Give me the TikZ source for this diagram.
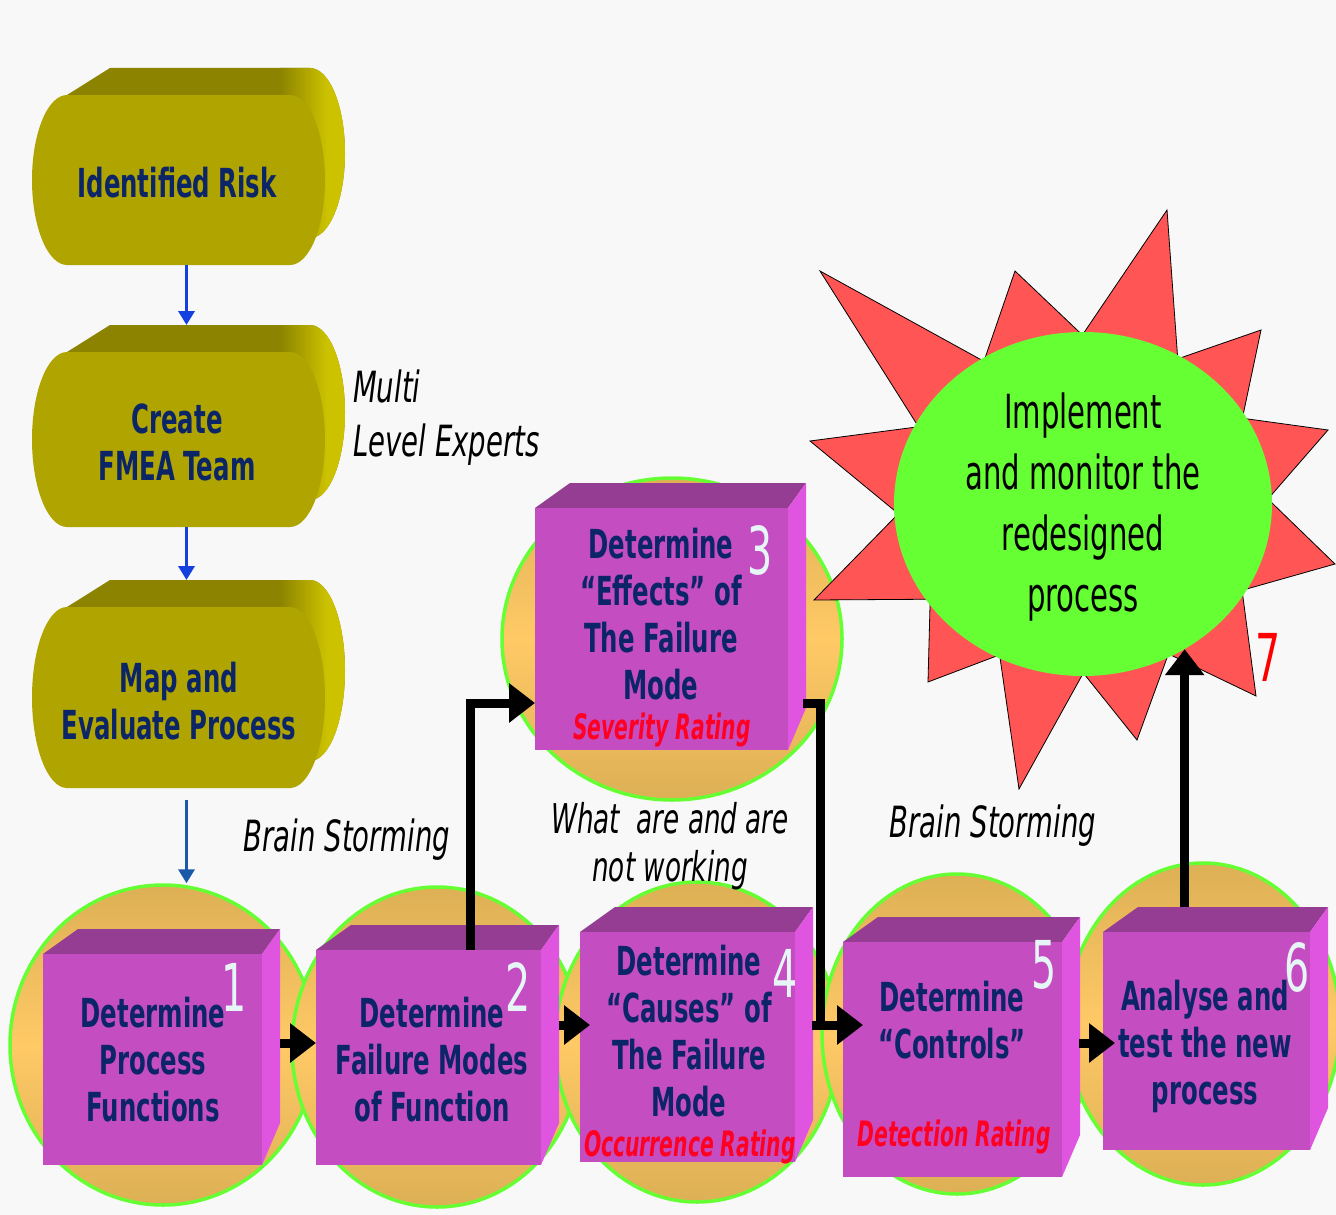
\documentclass[tikz,border=0pt]{standalone}
\usepackage{fontspec}
\usetikzlibrary{arrows.meta,shapes.geometric,calc}
\newfontfamily\bxf{DejaVu Sans}[FakeStretch=0.61]
\newfontfamily\rtf{DejaVu Sans}[FakeStretch=0.58]
\newfontfamily\itf{DejaVu Sans}[FakeStretch=0.64]
\newfontfamily\elf{DejaVu Sans}[FakeStretch=0.62]
\newfontfamily\nmf{DejaVu Sans}[FakeStretch=0.6]
\definecolor{bgc}{HTML}{F8F8F8}
\definecolor{olfront}{HTML}{B0A500}
\definecolor{oltop}{HTML}{8C8300}
\definecolor{olside}{HTML}{CCC200}
\definecolor{navy}{HTML}{0B2566}
\definecolor{pfront}{HTML}{C54DC2}
\definecolor{ptop}{HTML}{953C93}
\definecolor{pside}{HTML}{DF55DF}
\definecolor{orng}{HTML}{FFC966}
\definecolor{orngd}{HTML}{DDB055}
\definecolor{ring}{HTML}{66FF33}
\definecolor{spikec}{HTML}{FF5555}
\definecolor{lgreen}{HTML}{66FF33}
\definecolor{numc}{HTML}{E6F6F6}
\definecolor{rd}{HTML}{FF0022}
\definecolor{blueA}{HTML}{1540E0}
\definecolor{blueB}{HTML}{1A58A8}

\newcommand\purp[5]{%
  \fill[ptop] (#2,#3) -- (#2+35,#3-25) -- (#4+18,#3-25) -- (#4,#3) -- cycle;
  \fill[pside] (#4,#3) -- (#4+18,#3-25) -- (#4+18,#5-42) -- (#4,#5) -- cycle;
  \node[fill=pfront, inner sep=0, outer sep=0, minimum width={#4-#2}, minimum height={#5-#3}] (#1) at ({(#2+#4)/2},{(#3+#5)/2}) {};
}
\newcommand\cyl[5]{%
  \pgfmathsetmacro\hh{(#5-#3)/2}
  \begin{scope}
    \clip (#2+35,#3) -- (#2+78,#3-27) -- (#4-15,#3-27) arc[start angle=-90,end angle=90,x radius=35,y radius=\hh] -- (#4-35,#5) -- cycle;
    \fill[oltop] (#2,#3-30) rectangle (#4+30,#5);
    \shade[left color=oltop,right color=olside] (#4-45,#3-30) rectangle (#4+2,#5);
    \fill[olside] (#4+2,#3-30) rectangle (#4+30,#5);
  \end{scope}
  \fill[olfront] (#2+35,#3) -- (#4-35,#3) arc[start angle=-90,end angle=90,x radius=35,y radius=\hh] -- (#2+35,#5) arc[start angle=90,end angle=270,x radius=35,y radius=\hh] -- cycle;
  \node[inner sep=0, outer sep=0, minimum width={#4-#2+20}, minimum height={#5-#3+27}] (#1) at ({(#2+#4)/2+8},{(#3-27+#5)/2}) {};
}

\begin{document}
\begin{tikzpicture}[x=1pt,y=-1pt,
  bxt/.style={font=\bxf\bfseries\fontsize{40}{47}\selectfont, text=navy, align=center, inner sep=0},
  rat/.style={font=\rtf\bfseries\itshape\fontsize{35}{38}\selectfont, text=rd, inner sep=0},
  lab/.style={font=\itf\itshape\fontsize{43}{54}\selectfont, text=black, inner sep=0},
  num/.style={font=\nmf\fontsize{66}{66}\selectfont, text=numc, inner sep=0},
  orb/.style={ellipse, draw=ring, line width=3.5pt, top color=orngd, bottom color=orngd, middle color=orng, inner sep=0},
  blk/.style={line width=9pt, line join=miter, -{Triangle[length=26pt,width=38pt]}},
  blu/.style={line width=3.5pt, -{Triangle[length=14pt,width=16pt]}},
  spk/.style={fill=spikec, draw=black, line width=0.8pt, line join=miter}]
\fill[bgc] (0,0) rectangle (1336,1215);
\useasboundingbox (0,0) rectangle (1336,1215);

% circles
\node[orb, minimum width=306, minimum height=320] (o1) at (163,1045) {};
\node[orb, minimum width=290, minimum height=320] (o2) at (437,1047) {};
\node[orb, minimum width=284, minimum height=320] (o3) at (697,1042) {};
\node[orb, minimum width=270, minimum height=320] (o4) at (957,1034) {};
\node[orb, minimum width=274, minimum height=322] (o5) at (1203,1024) {};
\node[orb, minimum width=340, minimum height=322] (o6) at (672,639) {};

% star
\coordinate (sc) at (1083,504);
\draw[spk] (820,271) -- ($(sc)+(-122.4:185 and 169)$) -- (1015,271) -- ($(sc)+(-90.2:185 and 169)$)
  -- (1167,210) -- ($(sc)+(-59.2:185 and 169)$) -- (1261,330) -- ($(sc)+(-30.5:185 and 169)$)
  -- (1328,430) -- ($(sc)+(-1.7:185 and 169)$) -- (1335,564) -- ($(sc)+(30.7:185 and 169)$)
  -- (1256,696) -- ($(sc)+(62.5:185 and 169)$) -- (1137,740) -- ($(sc)+(89.9:185 and 169)$)
  -- (1019,789) -- ($(sc)+(116.8:185 and 169)$) -- (928,682) -- ($(sc)+(145.7:185 and 169)$)
  -- (814,600) -- ($(sc)+(176.7:185 and 169)$) -- (810,441) -- ($(sc)+(-152.8:185 and 169)$) -- cycle;
\node[ellipse, fill=lgreen, inner sep=0, minimum width=378, minimum height=344] (impl) at (sc) {};

% cylinders
\cyl{c1}{32}{95}{325}{265}
\cyl{c2}{32}{352}{325}{527}
\cyl{c3}{32}{607}{325}{788}

% cubes
\purp{b1}{43}{954}{262}{1165}
\purp{b2}{316}{950}{541}{1165}
\purp{b3}{535}{508}{788}{750}
\purp{b4}{580}{932}{795}{1162}
\purp{b5}{843}{942}{1062}{1177}
\purp{b6}{1103}{932}{1310}{1150}

% blue connectors
\draw[blu, blueA] (c1.south) -- (c2.north);
\draw[blu, blueA] (c2.south) -- (c3.north);
\draw[blu, blueB] ([yshift=-12pt]c3.south) -- (c3.south |- o1.north);

% black connectors
\coordinate (k12) at (300,1043);
\coordinate (k24) at (560,1025);
\coordinate (k23) at (470,703);
\coordinate (k35) at (820,703);
\coordinate (k5) at (820,1025);
\coordinate (k56) at (1090,1043);
\draw[blk] ([xshift=18pt]b1.east |- k12) -- (b2.west |- k12);
\draw[blk] ([xshift=18pt]b2.east |- k24) -- ([xshift=10pt]b4.west |- k24);
\draw[blk] (b2.north -| k23) -- (k23) -- (b3.west |- k23);
\draw[line width=9pt, line join=miter] ([xshift=15pt]b3.east |- k35) -- (k35) -- (k5);
\draw[blk] ([xshift=17pt]b4.east |- k5) -- ([xshift=20pt]b5.west |- k5);
\draw[blk] ([xshift=17pt]b5.east |- k56) -- ([xshift=12pt]b6.west |- k56);
\draw[blk] ([yshift=25pt]b6.north -| impl.-55) -- (impl.-55);

% texts
\node[bxt] (tc1) at (177,183) {Identified Risk};
\node[bxt] (tc2) at (177,442) {Create\\FMEA Team};
\node[bxt] (tc3) at (179,701) {Map and\\Evaluate Process};

\node[bxt] (t1) at (153,1060) {Determine\\Process\\Functions};
\node[bxt] (t2) at (432,1060) {Determine\\Failure Modes\\of Function};
\node[bxt] (t3) at (661,614) {Determine\\“Effects” of\\The Failure\\Mode};
\node[rat] (r3) at (662,730) {Severity Rating};
\node[bxt] (t4) at (689,1031) {Determine\\“Causes” of\\The Failure\\Mode};
\node[rat] (r4) at (690,1147) {Occurrence Rating};
\node[bxt] (t5) at (952,1020) {Determine\\“Controls”};
\node[rat] (r5) at (954,1137) {Detection Rating};
\node[bxt] (t6) at (1205,1046) {Analyse and\\test the new\\process};

\node[num] (n1) at (234,987) {1};
\node[num] (n2) at (518,987) {2};
\node[num] (n3) at (760,550) {3};
\node[num] (n4) at (785,973) {4};
\node[num] (n5) at (1044,965) {5};
\node[num] (n6) at (1297,967) {6};
\node[num, text=red] (n7) at (1268,657) {7};

\node[font=\elf\fontsize{47}{61}\selectfont, align=center, inner sep=0] (it) at (1083,507) {Implement\\and monitor the\\redesigned\\process};

\node[lab, align=left, anchor=west] (ml) at (353,418) {Multi\\Level Experts};
\node[lab] (bs1) at (347,840) {Brain Storming};
\node[lab, align=center, font=\itf\itshape\fontsize{41}{48}\selectfont] (wh) at (670,846) {What\ \ are and are\\not working};
\node[lab] (bs2) at (993,826) {Brain Storming};
\end{tikzpicture}
\end{document}
